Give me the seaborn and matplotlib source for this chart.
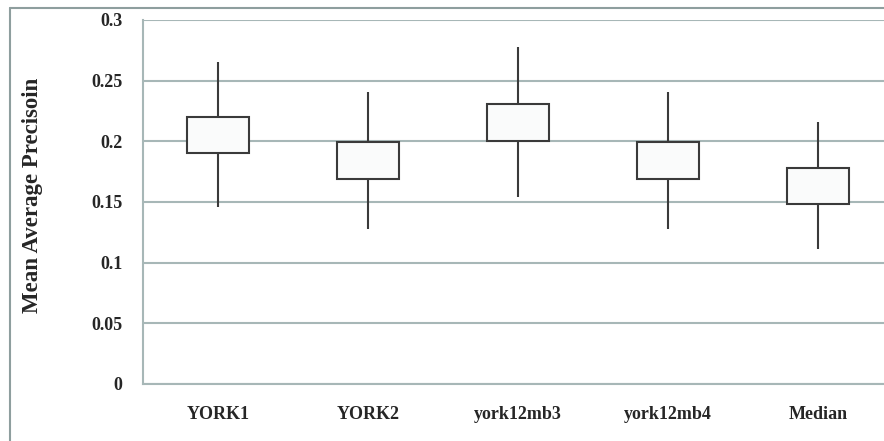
import numpy as np
import pandas as pd
import matplotlib
matplotlib.use("Agg")
import matplotlib.pyplot as plt
from matplotlib.lines import Line2D
from matplotlib.ticker import FixedLocator
import seaborn as sns

# Five-number summaries per run (whisker low, box low, box high, whisker high)
runs = ["YORK1", "YORK2", "york12mb3", "york12mb4", "Median"]
whisker_low = [0.146, 0.128, 0.154, 0.128, 0.111]
box_low = [0.190, 0.169, 0.200, 0.169, 0.148]
box_high = [0.220, 0.1995, 0.231, 0.1995, 0.178]
whisker_high = [0.265, 0.241, 0.278, 0.241, 0.216]
y_ticks = [0, 0.05, 0.1, 0.15, 0.2, 0.25, 0.3]
y_tick_labels = ["0", "0.05", "0.1", "0.15", "0.2", "0.25", "0.3"]

# Long-form samples whose quartiles equal the box edges and whose extremes are the whiskers
rows = []
for r, lo, q1, q3, hi in zip(runs, whisker_low, box_low, box_high, whisker_high):
    for v in (lo, q1, q1, q3, q3, hi):
        rows.append({"run": r, "map": v})
df = pd.DataFrame(rows)

sns.set_theme(style="white")
plt.rcParams["font.family"] = ["Liberation Serif", "DejaVu Serif"]
plt.rcParams["font.weight"] = "bold"

fig = plt.figure(figsize=(8.84, 4.41), dpi=100)
ax = fig.add_axes([143 / 884, 1 - 384 / 441, 750 / 884, 364 / 441])

grid_c = "#a7b7b7"
edge_c = "#3a3a3a"
fill_c = "#fafbfb"

sns.boxplot(
    data=df, x="run", y="map", order=runs, ax=ax,
    whis=(0, 100), width=0.41, showcaps=False, fliersize=0,
    color=fill_c, linewidth=1.5, linecolor=edge_c,
    medianprops={"visible": False},
    boxprops={"facecolor": fill_c, "edgecolor": edge_c, "zorder": 3},
    whiskerprops={"color": edge_c, "zorder": 3},
)

ax.set_xlim(-0.5, 4.5)
ax.set_ylim(0, 0.3)
ax.set_yticks(y_ticks)
ax.set_yticklabels(y_tick_labels, fontsize=13, fontweight="bold")
ax.set_xticks(range(len(runs)))
ax.set_xticklabels(runs, fontsize=13, fontweight="bold")
ax.xaxis.set_minor_locator(FixedLocator(np.arange(-0.5, 4.6, 1.0)))
ax.tick_params(axis="x", which="major", length=0, pad=16)
ax.tick_params(axis="x", which="minor", length=5, width=1.5, color=grid_c, direction="out")
ax.tick_params(axis="y", which="major", length=5, width=1.5, color=grid_c, direction="out", pad=10)
ax.yaxis.grid(True, color=grid_c, linewidth=1.5, zorder=0)
ax.set_axisbelow(True)
for side in ("top", "right"):
    ax.spines[side].set_visible(False)
for side in ("left", "bottom"):
    ax.spines[side].set_color(grid_c)
    ax.spines[side].set_linewidth(1.5)

ax.set_xlabel("")
ax.set_ylabel("Mean Average Precisoin", fontsize=16.5, fontweight="bold")
ax.yaxis.set_label_coords((43 - 143) / 750, (384 - 195) / 364)

# Chart-area frame (top and left edges)
border_c = "#8e9e9e"
fig.add_artist(Line2D([9.5 / 884, 9.5 / 884], [0, 1 - 8 / 441], color=border_c, linewidth=1.5,
                      transform=fig.transFigure))
fig.add_artist(Line2D([9.5 / 884, 1], [1 - 8 / 441, 1 - 8 / 441], color=border_c, linewidth=1.5,
                      transform=fig.transFigure))

fig.savefig("out.png", dpi=100, facecolor="white")
